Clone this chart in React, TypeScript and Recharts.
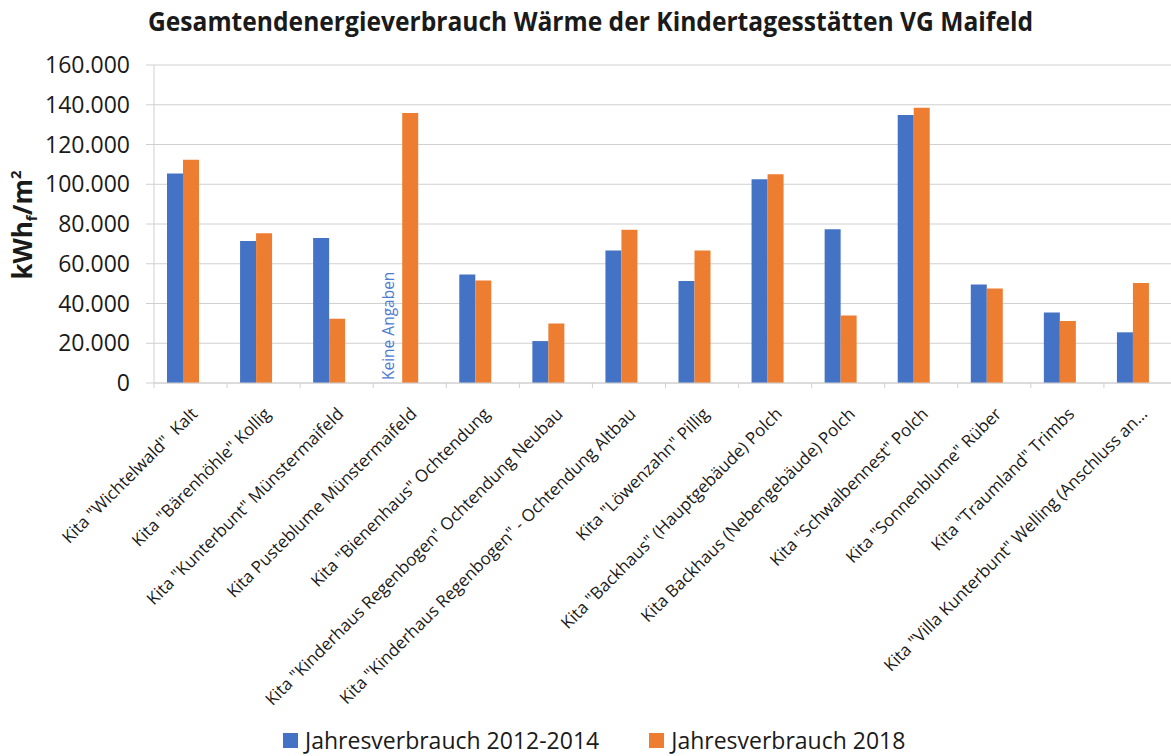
import React from 'react';
import { BarChart, Bar, XAxis, YAxis, CartesianGrid, Legend } from 'recharts';

const categories = [
  'Kita "Wichtelwald"  Kalt',
  'Kita "Bärenhöhle" Kollig',
  'Kita "Kunterbunt" Münstermaifeld',
  'Kita Pusteblume Münstermaifeld',
  'Kita "Bienenhaus" Ochtendung',
  'Kita "Kinderhaus Regenbogen" Ochtendung Neubau',
  'Kita "Kinderhaus Regenbogen" - Ochtendung Altbau',
  'Kita "Löwenzahn" Pillig',
  'Kita "Backhaus" (Hauptgebäude) Polch',
  'Kita Backhaus (Nebengebäude) Polch',
  'Kita "Schwalbennest" Polch',
  'Kita "Sonnenblume" Rüber',
  'Kita "Traumland" Trimbs',
  'Kita "Villa Kunterbunt" Welling (Anschluss an…',
];

// kWh_f/m² per year
const verbrauch2012_2014 = [
  105400, 71500, 73000, null, 54600, 21100, 66700, 51300, 102500, 77400, 134800, 49600, 35500, 25500,
];
const verbrauch2018 = [
  112300, 75400, 32300, 135800, 51600, 30000, 77100, 66700, 105000, 34000, 138500, 47600, 31200, 50300,
];
// empty third column of the original sheet (keeps the bar pairs left of centre)
const leer = [null, null, null, null, null, null, null, null, null, null, null, null, null, null];
// notes shown where a value is missing
const hinweise = ['', '', '', 'Keine Angaben', '', '', '', '', '', '', '', '', '', ''];

const yTicks = [0, 20000, 40000, 60000, 80000, 100000, 120000, 140000, 160000];

const BLUE = '#4472C4';
const ORANGE = '#ED7D31';
const GRID = '#d0d0d0';
const TEXT = '#1a1a1a';
const FONT = '"Open Sans", sans-serif';

const CHART_W = 1200;
const PLOT_LEFT = 154;
const PLOT_RIGHT = 1177;
const BAND = (PLOT_RIGHT - PLOT_LEFT) / categories.length;

const data = categories.map((name, i) => ({
  name,
  a: verbrauch2012_2014[i],
  b: verbrauch2018[i],
  c: leer[i],
}));

function fmt(v: number) {
  return String(v).replace(/\B(?=(\d{3})+(?!\d))/g, '.');
}

function CategoryTick(props: any) {
  const { x, y, payload, index } = props;
  const left = x - BAND / 2;
  const note = hinweise[index];
  return (
    <g>
      <line x1={left} x2={left} y1={y} y2={y + 5} stroke={GRID} />
      {index === categories.length - 1 && (
        <line x1={x + BAND / 2} x2={x + BAND / 2} y1={y} y2={y + 5} stroke={GRID} />
      )}
      <text
        transform={`translate(${x + 8},${y + 32}) rotate(-45)`}
        textAnchor="end"
        fontSize={17}
        fill={TEXT}
        style={{ whiteSpace: 'pre' }}
      >
        {payload.value}
      </text>
      {note && (
        <text
          transform={`translate(${x - 16},${y - 3}) rotate(-90)`}
          fontSize={15.5}
          fill="#4f7bd0"
        >
          {note}
        </text>
      )}
    </g>
  );
}

function YLabel() {
  return (
    <text
      transform="translate(32,225) rotate(-90)"
      textAnchor="middle"
      fontSize={26}
      fontWeight={700}
      fill={TEXT}
    >
      kWh
      <tspan fontSize={15} dy={5}>f</tspan>
      <tspan fontSize={26} dy={-5}>/m</tspan>
      <tspan fontSize={15} dy={-11}>2</tspan>
    </text>
  );
}

function LegendContent(props: any) {
  const items = (props.payload || []).filter((p: any) => p.type !== 'none');
  return (
    <div
      style={{
        display: 'flex',
        alignItems: 'center',
        fontSize: 23,
        lineHeight: '28px',
        color: TEXT,
        fontFamily: FONT,
      }}
    >
      {items.map((p: any) => (
        <div key={p.value} style={{ display: 'flex', alignItems: 'center', marginRight: 50 }}>
          <span style={{ width: 15, height: 15, background: p.color, marginRight: 7, display: 'inline-block' }} />
          <span>{p.value}</span>
        </div>
      ))}
    </div>
  );
}

export default function App() {
  return (
    <div
      style={{
        position: 'absolute',
        left: 0,
        top: 0,
        width: 1171,
        height: 756,
        overflow: 'hidden',
        background: '#fff',
        fontFamily: FONT,
      }}
    >
      <svg width={1171} height={50} style={{ position: 'absolute', left: 0, top: 0 }}>
        <text
          x={590.5}
          y={31}
          textAnchor="middle"
          fontSize={27}
          fontWeight={700}
          fill={TEXT}
          textLength={885}
          lengthAdjust="spacingAndGlyphs"
        >
          Gesamtendenergieverbrauch Wärme der Kindertagesstätten VG Maifeld
        </text>
      </svg>
      <BarChart
        width={CHART_W}
        height={756}
        data={data}
        margin={{ top: 65, right: CHART_W - PLOT_RIGHT, left: 0, bottom: 0 }}
        barGap={0}
        barSize={16}
      >
        <CartesianGrid vertical={false} stroke={GRID} />
        <XAxis
          dataKey="name"
          height={373}
          interval={0}
          tickSize={0}
          tickMargin={0}
          tickLine={false}
          axisLine={{ stroke: GRID }}
          tick={<CategoryTick />}
        />
        <YAxis
          width={PLOT_LEFT}
          domain={[0, 160000]}
          ticks={yTicks}
          tickFormatter={fmt}
          tickSize={8}
          tickMargin={16}
          tickLine={{ stroke: GRID }}
          axisLine={{ stroke: GRID }}
          tick={{ fontSize: 23, fill: TEXT }}
          label={{ content: () => <YLabel /> }}
        />
        <Legend
          layout="horizontal"
          verticalAlign="middle"
          align="center"
          wrapperStyle={{ top: 726, left: 283, width: 800, height: 28 }}
          content={<LegendContent />}
        />
        <Bar dataKey="a" name="Jahresverbrauch 2012-2014" fill={BLUE} isAnimationActive={false} />
        <Bar dataKey="b" name="Jahresverbrauch 2018" fill={ORANGE} isAnimationActive={false} />
        <Bar dataKey="c" name="leer" fill="transparent" legendType="none" isAnimationActive={false} />
      </BarChart>
    </div>
  );
}
